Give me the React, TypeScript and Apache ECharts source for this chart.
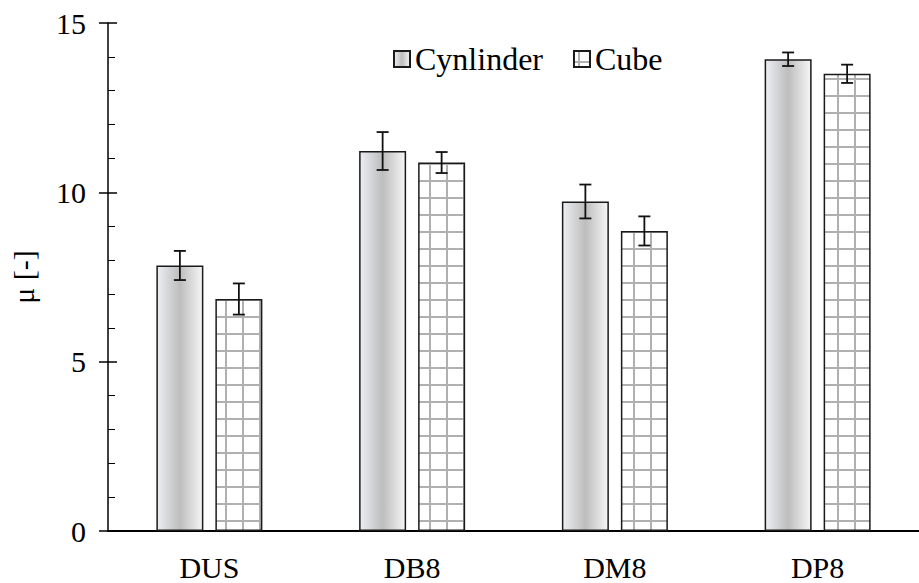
import React, { useEffect, useRef } from "react";
import * as echarts from "echarts";

const categories = ["DUS", "DB8", "DM8", "DP8"];
const cylinderValues = [7.84, 11.22, 9.73, 13.93];
const cylinderErrors = [0.43, 0.56, 0.5, 0.2];
const cubeValues = [6.85, 10.88, 8.86, 13.5];
const cubeErrors = [0.46, 0.31, 0.43, 0.27];
const seriesNames = ["Cynlinder", "Cube"];

const FONT = "Liberation Serif";

function makeGridPattern(): HTMLCanvasElement {
  const c = document.createElement("canvas");
  c.width = 17;
  c.height = 17;
  const ctx = c.getContext("2d")!;
  ctx.fillStyle = "#ffffff";
  ctx.fillRect(0, 0, 17, 17);
  ctx.fillStyle = "#b0b0b0";
  ctx.fillRect(4, 0, 2, 17);
  ctx.fillRect(0, 10, 17, 2);
  return c;
}

export default function App() {
  const ref = useRef<HTMLDivElement>(null);
  useEffect(() => {
    if (!ref.current) return;
    const chart = echarts.init(ref.current, null, { renderer: "svg" });
    const barWidth = 47;
    const barGap = 12;
    const offset = (barWidth + barGap) / 2;
    const cylGradient = new echarts.graphic.LinearGradient(0, 0, 1, 0, [
      { offset: 0, color: "#eceef2" },
      { offset: 0.5, color: "#bdbdbd" },
      { offset: 1, color: "#f6f6f6" },
    ]);
    const pattern = { image: makeGridPattern(), repeat: "repeat" };

    const errData = (vals: number[], errs: number[]) =>
      vals.map((v, i) => [i, v - errs[i], v + errs[i]]);

    const errSeries = (name: string, vals: number[], errs: number[], dx: number) => ({
      type: "custom",
      name: name + " err",
      z: 5,
      silent: true,
      encode: { x: 0, y: [1, 2] },
      data: errData(vals, errs),
      renderItem: (params: any, api: any) => {
        const i = api.value(0);
        const lo = api.coord([i, api.value(1)]);
        const hi = api.coord([i, api.value(2)]);
        const x = lo[0] + dx;
        const cap = 6;
        const style = { stroke: "#111", lineWidth: 1.8 };
        return {
          type: "group",
          children: [
            { type: "line", shape: { x1: x, y1: lo[1], x2: x, y2: hi[1] }, style },
            { type: "line", shape: { x1: x - cap, y1: lo[1], x2: x + cap, y2: lo[1] }, style },
            { type: "line", shape: { x1: x - cap, y1: hi[1], x2: x + cap, y2: hi[1] }, style },
          ],
        };
      },
    });

    const option: any = {
      animation: false,
      backgroundColor: "#ffffff",
      textStyle: { fontFamily: FONT, color: "#000" },
      grid: { left: 108, right: -9, top: 23, bottom: 52, containLabel: false },
      legend: {
        data: seriesNames,
        left: 388,
        top: 38,
        icon: "rect",
        itemWidth: 16,
        itemHeight: 16,
        itemGap: 30,
        textStyle: { fontFamily: FONT, fontSize: 32, color: "#000" },
      },
      xAxis: [
        {
          type: "category",
          data: categories,
          position: "bottom",
          axisLine: { lineStyle: { color: "#000", width: 2 } },
          axisTick: { show: false },
          axisLabel: { fontFamily: FONT, fontSize: 30, color: "#000", margin: 21 },
        },
        {
          type: "category",
          data: categories,
          position: "top",
          axisLine: { show: true, lineStyle: { color: "#000", width: 1.5 } },
          axisTick: { show: false },
          axisLabel: { show: false },
        },
      ],
      yAxis: [
        {
          type: "value",
          min: 0,
          max: 15,
          interval: 5,
          name: "μ [-]",
          nameLocation: "middle",
          nameRotate: 90,
          nameGap: 70,
          nameTextStyle: { fontFamily: FONT, fontSize: 30, color: "#000" },
          axisLine: { show: true, lineStyle: { color: "#000", width: 1.5 } },
          axisTick: { show: true, length: 9, lineStyle: { color: "#000", width: 1.5 } },
          axisLabel: { fontFamily: FONT, fontSize: 30, color: "#000", margin: 22 },
          splitLine: { show: false },
        },
        {
          type: "value",
          min: 0,
          max: 15,
          interval: 5,
          position: "left",
          axisLine: { show: false },
          axisTick: { show: true, inside: true, length: 9, lineStyle: { color: "#000", width: 1.5 } },
          minorTick: { show: true, splitNumber: 5, length: 7, lineStyle: { color: "#000", width: 1 } },
          axisLabel: { show: false },
          splitLine: { show: false },
        },
      ],
      series: [
        {
          type: "bar",
          name: seriesNames[0],
          data: cylinderValues,
          barWidth,
          barGap: (barGap / barWidth) * 100 + "%",
          itemStyle: { color: cylGradient, borderColor: "#1a1a1a", borderWidth: 1.5 },
        },
        {
          type: "bar",
          name: seriesNames[1],
          data: cubeValues,
          barWidth,
          itemStyle: { color: pattern, borderColor: "#1a1a1a", borderWidth: 1.5 },
        },
        errSeries(seriesNames[0], cylinderValues, cylinderErrors, -offset),
        errSeries(seriesNames[1], cubeValues, cubeErrors, offset),
      ],
    };
    chart.setOption(option);
    return () => chart.dispose();
  }, []);
  return (
    <div
      ref={ref}
      style={{ position: "fixed", left: 0, top: 0, width: 919, height: 583 }}
    />
  );
}
